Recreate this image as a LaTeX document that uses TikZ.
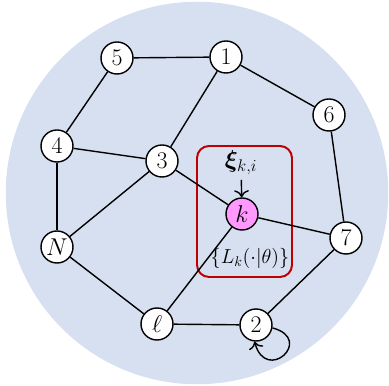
\documentclass[tikz,border=0pt]{standalone}
\usepackage{amsmath,amssymb}
\usepackage{bm}
\usepackage{xcolor}
\usetikzlibrary{arrows.meta}
\definecolor{netbg}{HTML}{D7E0F0}
\definecolor{agentpink}{HTML}{FF99FF}
\definecolor{boxred}{HTML}{C00000}

\begin{document}
\begin{tikzpicture}[x=0.025cm, y=-0.025cm,
  agent/.style={draw, circle, fill=#1, line width=1pt, minimum size=0.8cm, inner sep=0pt, font=\fontsize{17}{19}\selectfont},
  agent/.default=white,
  link/.style={line width=1pt},
  arrow/.style={-{To[length=5pt]}, line width=1pt},
]
\useasboundingbox (0,0) rectangle (389,386);
\fill[netbg] (197,193) circle (4.78cm);

% local neighbourhood of agent k
\draw[boxred, line width=1.4pt, rounded corners=0.3cm] (197,146) rectangle (292,277);

\node[agent] (n5) at (117,58) {5};
\node[agent] (n1) at (226,57) {1};
\node[agent] (n6) at (329,115) {6};
\node[agent] (n4) at (57,146) {4};
\node[agent] (n3) at (162,161) {3};
\node[agent=agentpink] (nk) at (242,214) {$k$};
\node[agent] (n7) at (346,238) {7};
\node[agent] (nN) at (57,247) {$N$};
\node[agent] (nl) at (157,324) {$\ell$};
\node[agent] (n2) at (256,325) {2};

\node[font=\fontsize{17}{19}\selectfont] (xi) at (241,163) {$\boldsymbol{\xi}_{k,i}$};
\node[font=\fontsize{14.5}{17}\selectfont] (lik) at (250,258) {$\{L_k(\cdot|\theta)\}$};

\draw[link] (n5) -- (n1);
\draw[link] (n5) -- (n4);
\draw[link] (n1) -- (n3);
\draw[link] (n1) -- (n6);
\draw[link] (n4) -- (n3);
\draw[link] (n4) -- (nN);
\draw[link] (n3) -- (nN);
\draw[link] (n3) -- (nk);
\draw[link] (n6) -- (n7);
\draw[link] (nk) -- (n7);
\draw[link] (nk) -- (nl);
\draw[link] (nN) -- (nl);
\draw[link] (nl) -- (n2);
\draw[link] (n2) -- (n7);
\draw[arrow] (xi) -- (nk);
\draw[arrow] (n2.-10) to[out=-15, in=-75, looseness=5] (n2.-95);
\end{tikzpicture}
\end{document}
